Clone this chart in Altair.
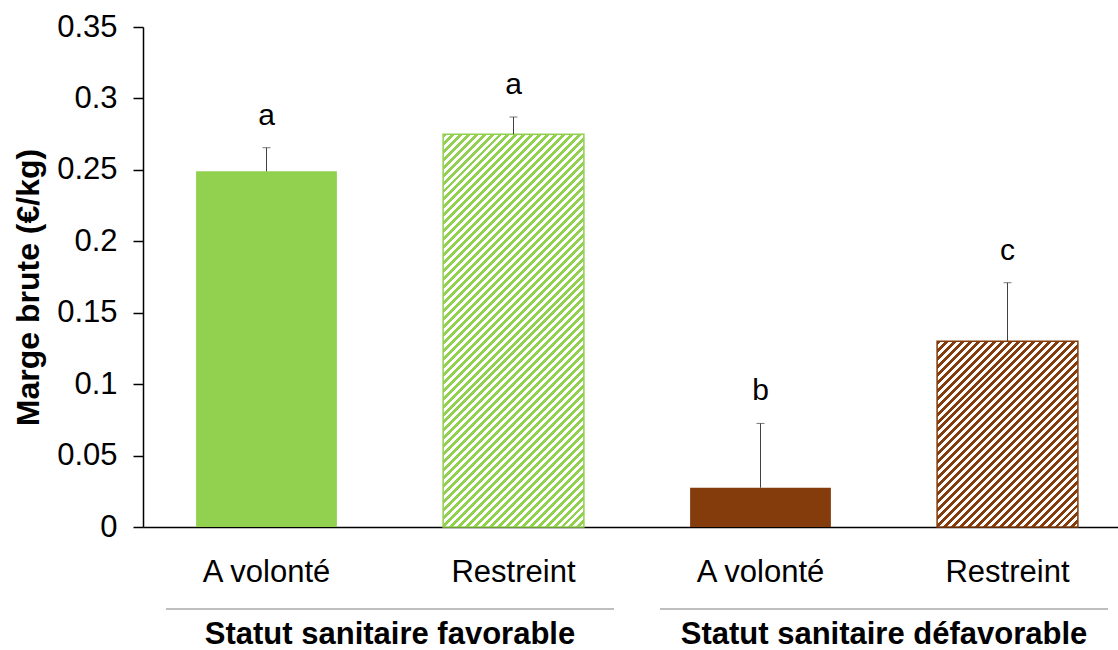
import altair as alt
import pandas as pd

# ---- data -------------------------------------------------------------
statut = ["Statut sanitaire favorable", "Statut sanitaire favorable",
          "Statut sanitaire défavorable", "Statut sanitaire défavorable"]
rationnement = ["A volonté", "Restreint", "A volonté", "Restreint"]
marge = [0.249, 0.275, 0.0275, 0.130]
erreur = [0.0165, 0.012, 0.045, 0.041]
lettres = ["a", "a", "b", "c"]
couleurs = ["#92D050", "#92D050", "#843C0C", "#843C0C"]
hachure = [False, True, False, True]
groupes = ["Statut sanitaire favorable", "Statut sanitaire défavorable"]
y_ticks = [0, 0.05, 0.1, 0.15, 0.2, 0.25, 0.3, 0.35]

# ---- layout -----------------------------------------------------------
FONT = "Liberation Sans"
W_PLOT, H_PLOT = 975, 500
SLOT_PX = 247              # pixel width of one bar slot
Y_MAX = 0.35
BAR_HALF = 0.285           # half bar width, in slot units
GROUP_HALF = 0.907         # half length of the group underline, in slot units
HATCH_STEP = 8             # vertical spacing of the hatch lines, px
HATCH_ON = 0.5             # share of each hatch period that is coloured

pos = [i + 0.5 for i in range(len(marge))]
df = pd.DataFrame({
    "statut": statut,
    "rationnement": rationnement,
    "pos": pos,
    "x0": [p - BAR_HALF for p in pos],
    "x1": [p + BAR_HALF for p in pos],
    "marge": marge,
    "haut": [m + e for m, e in zip(marge, erreur)],
    "lettre": lettres,
    "couleur": couleurs,
    "hachure": hachure,
})

centres = [df.loc[df["statut"] == g, "pos"].mean() for g in groupes]
gdf = pd.DataFrame({
    "groupe": groupes,
    "centre": centres,
    "g0": [c - GROUP_HALF for c in centres],
    "g1": [c + GROUP_HALF for c in centres],
})

x_scale = alt.Scale(domain=[0, W_PLOT / SLOT_PX], nice=False, zero=False)
y_scale = alt.Scale(domain=[0, Y_MAX], nice=False)

X_AXIS = alt.Axis(labels=False, ticks=False, grid=False, title=None,
                  domainColor="black", domainWidth=1.5)
Y_AXIS = alt.Axis(values=y_ticks, format="~g", grid=False,
                  title="Marge brute (€/kg)",
                  titleFont=FONT, titleFontSize=32, titleFontWeight="bold",
                  titleColor="black", titleAngle=270,
                  titleAlign="center", titleBaseline="middle",
                  titleX=-115, titleY=260,
                  labelFont=FONT, labelFontSize=31, labelColor="black",
                  labelPadding=16, tickSize=10, tickColor="black",
                  tickWidth=1.5, domainColor="black", domainWidth=1.5)


def xq(field):
    return alt.X(field, scale=x_scale, axis=X_AXIS)


def yq(field):
    return alt.Y(field, scale=y_scale, axis=Y_AXIS)


def hatch_fill(color, value):
    """Diagonal '/' stripes drawn as a hard-stop linear gradient."""
    w = 2 * BAR_HALF * SLOT_PX
    h = value / Y_MAX * H_PLOT
    n = max(1, round((w + h) / HATCH_STEP))
    stops = []
    for k in range(n):
        a, b, c = k / n, (k + HATCH_ON) / n, (k + 1) / n
        stops += [
            alt.GradientStop(offset=a, color=color),
            alt.GradientStop(offset=b, color=color),
            alt.GradientStop(offset=b, color="white"),
            alt.GradientStop(offset=c, color="white"),
        ]
    d = w * w + h * h
    return alt.LinearGradient(
        gradient="linear", stops=stops,
        x1=0, y1=0, x2=w * (w + h) / d, y2=h * (w + h) / d,
    )


base = alt.Chart(df)

# plain bars
solid = base.transform_filter("!datum.hachure").mark_rect().encode(
    x=xq("x0:Q"), x2="x1:Q",
    y=yq("marge:Q"), y2=alt.datum(0),
    fill=alt.Fill("couleur:N", scale=None),
)

# hatched bars, one layer per bar since the stripe geometry depends on its height
hatched_layers = []
for i, row in df[df["hachure"]].iterrows():
    hatched_layers.append(
        alt.Chart(df.iloc[[i]]).mark_rect(
            fill=hatch_fill(row["couleur"], row["marge"]),
            stroke=row["couleur"], strokeWidth=1.5,
        ).encode(
            x=xq("x0:Q"), x2="x1:Q",
            y=yq("marge:Q"), y2=alt.datum(0),
        )
    )

err_rule = base.mark_rule(color="#404040", strokeWidth=1).encode(
    x=xq("pos:Q"), y=yq("marge:Q"), y2="haut:Q",
)
err_cap = base.mark_tick(orient="horizontal", size=8, thickness=1,
                         color="#404040").encode(
    x=xq("pos:Q"), y=yq("haut:Q"),
)

letters = base.mark_text(font=FONT, fontSize=30, color="black",
                         baseline="alphabetic", dy=-23).encode(
    x=xq("pos:Q"), y=yq("haut:Q"), text="lettre:N",
)

cat_labels = base.mark_text(font=FONT, fontSize=31, color="black",
                            baseline="alphabetic").encode(
    x=xq("pos:Q"), y=alt.value(555), text="rationnement:N",
)

gbase = alt.Chart(gdf)
group_lines = gbase.mark_rule(color="#7F7F7F", strokeWidth=1).encode(
    x=xq("g0:Q"), x2="g1:Q", y=alt.value(582),
)
group_labels = gbase.mark_text(font=FONT, fontSize=31, fontWeight="bold",
                               color="black", baseline="alphabetic").encode(
    x=xq("centre:Q"), y=alt.value(617), text="groupe:N",
)

chart = alt.layer(
    solid, *hatched_layers, err_rule, err_cap, letters,
    cat_labels, group_lines, group_labels,
).properties(
    width=W_PLOT, height=H_PLOT,
    autosize=alt.AutoSizeParams(type="none"),
    padding={"left": 143, "top": 27, "right": 0, "bottom": 123},
).configure(
    font=FONT, background="white", view=alt.ViewConfig(stroke=None),
)

chart.save("out.html", embed_options={"renderer": "svg", "actions": False})
